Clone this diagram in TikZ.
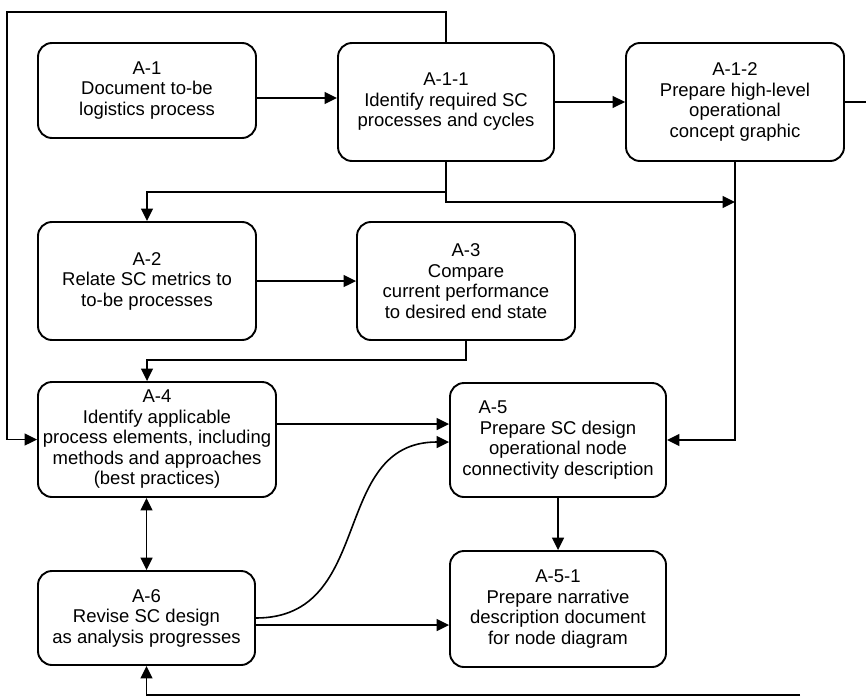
\documentclass[tikz,border=0pt]{standalone}
\usepackage{fontspec}
\setmainfont{Liberation Sans}
\usetikzlibrary{arrows.meta}
\begin{document}
\begin{tikzpicture}[x=1pt,y=-1pt,
  stepbox/.style={draw, line width=1.9pt, rounded corners=14pt, inner sep=0pt,
    align=center, font=\fontsize{18.5}{20.5}\selectfont},
  link/.style={line width=1.6pt},
  arr/.style={link, -{Triangle[length=12.5pt,width=12pt]}},
  dbl/.style={link, {Triangle[length=12.5pt,width=12pt]}-{Triangle[length=12.5pt,width=12pt]}}
]
\useasboundingbox (0,0) rectangle (866,698);

% process steps
\node[stepbox, minimum width=218pt, minimum height=95pt]  (a1)  at (147,90.5) {A-1\\Document to-be\\logistics process};
\node[stepbox, minimum width=216pt, minimum height=118pt] (a11) at (446,102)  {A-1-1\\Identify required SC\\processes and cycles};
\node[stepbox, minimum width=218pt, minimum height=118pt] (a12) at (735,102)  {A-1-2\\Prepare high-level\\operational\\concept graphic};
\node[stepbox, minimum width=218pt, minimum height=118pt] (a2)  at (147,281)  {A-2\\Relate SC metrics to\\to-be processes};
\node[stepbox, minimum width=218pt, minimum height=118pt] (a3)  at (466,281)  {A-3\\Compare\\current performance\\to desired end state};
\node[stepbox, minimum width=238pt, minimum height=115pt] (a4)  at (157,439.5) {A-4\\Identify applicable\\process elements, including\\methods and approaches\\(best practices)};
\node[stepbox, minimum width=216pt, minimum height=114pt] (a5)  at (558,440)  {A-5\hspace*{130pt}\\Prepare SC design\\operational node\\connectivity description};
\node[stepbox, minimum width=217pt, minimum height=94pt]  (a6)  at (146.5,618) {A-6\\Revise SC design\\as analysis progresses};
\node[stepbox, minimum width=216pt, minimum height=116pt] (a51) at (558,609)  {A-5-1\\Prepare narrative\\description document\\for node diagram};

% free ends of the outer lines
\coordinate (exit)   at (866,102);
\coordinate (corner) at (7,12);
\coordinate (tail)   at (800,695);

% connectors
\draw[arr] (a1.east |- 0,98) -- (a11.west |- 0,98);
\draw[arr] (a11.east) -- (a11.east -| a12.west);
\draw[link] (a12.east) -- (exit);
\draw[arr] (a11.north) |- (corner) |- (a4.west);
\draw[arr] (a11.south) -- ++(0,30) -| (a2.north);
\draw[arr] (a11.south) |- (a12.south |- 0,202);
\draw[arr] (a12.south) |- (a5.east);
\draw[arr] (a2) -- (a3);
\draw[arr] (a3.south) -- ++(0,19) -| (a2.south |- a4.north);
\draw[arr] (a4.east |- 0,424) -- (a5.west |- 0,424);
\draw[dbl] (a6.north |- a4.south) -- (a6.north);
\draw[arr] (a6.east) .. controls +(120,0) and +(-120,0) .. (a5.west |- 0,442);
\draw[arr] (a6.east |- 0,625) -- (a51.west |- 0,625);
\draw[arr] (a5) -- (a51);
\draw[arr] (tail) -| (a6.south);
\end{tikzpicture}
\end{document}
